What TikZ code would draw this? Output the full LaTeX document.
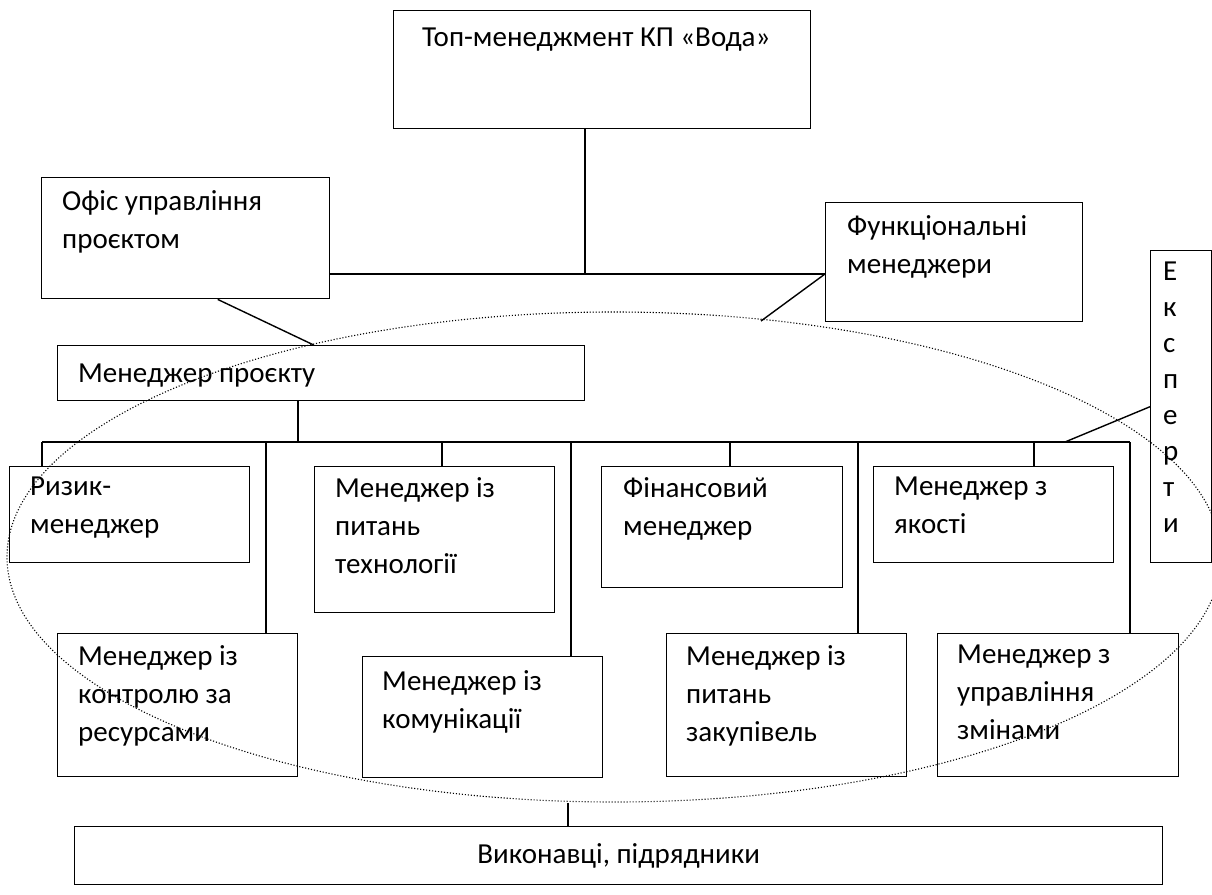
\documentclass[tikz,border=0pt]{standalone}
\usepackage{fontspec}
\setmainfont{Carlito}
\usetikzlibrary{positioning, calc, shapes.geometric}
\newcommand\boxfont{\fontsize{29}{38}\selectfont}

\begin{document}
\begin{tikzpicture}[x=1pt, y=-1pt,
			unit/.style = {rectangle, draw, line width=1.4pt, anchor=north west, inner sep=0pt},
			boxtext/.style = {anchor=north west, align=left, inner sep=0pt, font=\boxfont, execute at begin node=\strut},
			link/.style = {line width=1.4pt},
			team/.style = {ellipse, draw, line width=1.1pt, dash pattern=on 1.1pt off 1.9pt, inner sep=0pt, minimum width=1214pt, minimum height=490pt},
		]
		\useasboundingbox (0,0) rectangle (1212,894);

		% top level
		\node[unit, minimum width=417pt, minimum height=118pt] (top) at (393,10) {};
		\node[boxtext] (topT) at ([shift={(29,10)}]top.north west) {Топ-менеджмент КП «Вода»};
		\node[unit, minimum width=288pt, minimum height=121pt] (office) at (41,177) {};
		\node[boxtext] (officeT) at ([shift={(21,13)}]office.north west) {Офіс управління\\проєктом};
		\node[unit, minimum width=257pt, minimum height=119pt] (func) at (825,202) {};
		\node[boxtext] (funcT) at ([shift={(22,13)}]func.north west) {Функціональні\\менеджери};
		\node[unit, minimum width=61pt, minimum height=312pt] (expert) at (1150,250) {};
		\node[boxtext, font=\fontsize{29}{36}\selectfont] (expertT) at ([shift={(13,12)}]expert.north west) {Е\\к\\с\\п\\е\\р\\т\\и};
		\node[unit, minimum width=527pt, minimum height=55pt] (pm) at (57,345) {};
		\node[boxtext] (pmT) at ([shift={(21,11)}]pm.north west) {Менеджер проєкту};

		% first row
		\node[unit, minimum width=240pt, minimum height=96pt] (risk) at (9,466) {};
		\node[boxtext] (riskT) at ([shift={(21,11)}]risk.north west) {Ризик-\\менеджер};
		\node[unit, minimum width=240pt, minimum height=146pt] (tech) at (314,466) {};
		\node[boxtext] (techT) at ([shift={(21,11)}]tech.north west) {Менеджер із\\питань\\технології};
		\node[unit, minimum width=241pt, minimum height=121pt] (fin) at (601,466) {};
		\node[boxtext] (finT) at ([shift={(22,11)}]fin.north west) {Фінансовий\\менеджер};
		\node[unit, minimum width=240pt, minimum height=96pt] (quality) at (873,466) {};
		\node[boxtext] (qualityT) at ([shift={(21,11)}]quality.north west) {Менеджер з\\якості};

		% second row
		\node[unit, minimum width=240pt, minimum height=143pt] (control) at (57,633) {};
		\node[boxtext] (controlT) at ([shift={(21,12)}]control.north west) {Менеджер із\\контролю за\\ресурсами};
		\node[unit, minimum width=240pt, minimum height=121pt] (comm) at (362,656) {};
		\node[boxtext] (commT) at ([shift={(20,14)}]comm.north west) {Менеджер із\\комунікації};
		\node[unit, minimum width=240pt, minimum height=143pt] (purchase) at (666,633) {};
		\node[boxtext] (purchaseT) at ([shift={(20,12)}]purchase.north west) {Менеджер із\\питань\\закупівель};
		\node[unit, minimum width=241pt, minimum height=143pt] (change) at (937,633) {};
		\node[boxtext] (changeT) at ([shift={(20,12)}]change.north west) {Менеджер з\\управління\\змінами};

		\node[unit, minimum width=1088pt, minimum height=58pt, font=\boxfont] (exec) at (74,826) {Виконавці, підрядники};

		\node[team] (crew) at (614,557) {};

		% connectors
		\coordinate (jTop) at (585,274);
		\coordinate (jPm) at (298,442);
		\coordinate (busL) at (42,442);
		\coordinate (busR) at (1130,442);
		\coordinate (fEnd) at (761,321);
		\coordinate (jExp) at (1065,442);

		\draw[link] (top.south -| jTop) -- (jTop);
		\draw[link] (office.east |- jTop) -- (func.west |- jTop);
		\draw[link] ([xshift=32pt]office.south) -- ([xshift=-7.5pt]pm.north);
		\draw[link] (func.west |- jTop) -- (fEnd);
		\draw[link] (pm.south -| jPm) -- (jPm);
		\draw[link] (busL) -- (busR);
		\foreach \x/\b in {42/risk, 266/control, 442/tech, 571/comm, 730/fin, 858/purchase, 1034/quality, 1130/change}
			\draw[link] (\b.north -| \x,0) -- (\x,0 |- busL);
		\draw[link] (expert.west) -- (jExp);
		\draw[link] (exec.north -| 568,0) -- (568,0 |- crew.south);
	\end{tikzpicture}
\end{document}
